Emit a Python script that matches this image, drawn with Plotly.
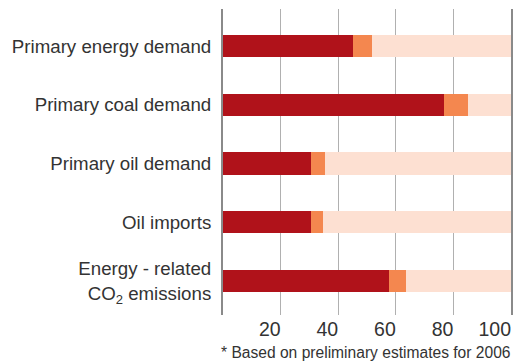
import plotly.graph_objects as go

categories = [
    "Primary energy demand",
    "Primary coal demand",
    "Primary oil demand",
    "Oil imports",
    "Energy - related<br>CO<sub>2</sub> emissions",
]
share_main = [45.2, 76.7, 30.6, 30.6, 57.6]
share_extra = [6.6, 8.4, 4.8, 4.0, 6.1]
share_rest = [100 - a - b for a, b in zip(share_main, share_extra)]
x_ticks = [20, 40, 60, 80, 100]
footnote = "* Based on preliminary estimates for 2006"

FONT = "Liberation Sans"
colors = ["#B0121A", "#F4874F", "#FDE0D2"]
names = ["Main", "Additional", "Rest"]

fig = go.Figure()
for vals, col, nm in zip([share_main, share_extra, share_rest], colors, names):
    fig.add_trace(go.Bar(
        y=list(range(len(categories))), x=vals, orientation="h",
        marker=dict(color=col, line=dict(width=0)),
        width=0.38, name=nm, showlegend=False,
    ))

fig.update_layout(
    barmode="stack",
    width=519, height=362,
    margin=dict(l=223, r=6, t=9, b=47),
    paper_bgcolor="white", plot_bgcolor="white",
    font=dict(family=FONT, color="#333333"),
    xaxis=dict(
        range=[0, 100], tickvals=x_ticks, ticktext=[str(v) for v in x_ticks],
        showgrid=True, gridcolor="#b0b0b0", gridwidth=1,
        zeroline=False, showline=False, ticks="",
        ticklabelposition="outside left",
        tickfont=dict(size=19.5, color="#333333", family=FONT),
    ),
    yaxis=dict(
        tickvals=list(range(len(categories))), ticktext=categories,
        range=[4.58, -0.63],
        showgrid=False, zeroline=False,
        showline=True, mirror=True, linecolor="#8a8a8a", linewidth=2,
        ticks="", ticklabelstandoff=6,
        tickfont=dict(size=18.7, color="#333333", family=FONT),
    ),
    annotations=[dict(
        text=footnote, xref="paper", yref="paper", x=1.008, y=-0.121,
        xanchor="right", yanchor="middle", showarrow=False,
        font=dict(size=15.6, color="#333333", family=FONT),
    )],
)

fig.write_html("out.html")
